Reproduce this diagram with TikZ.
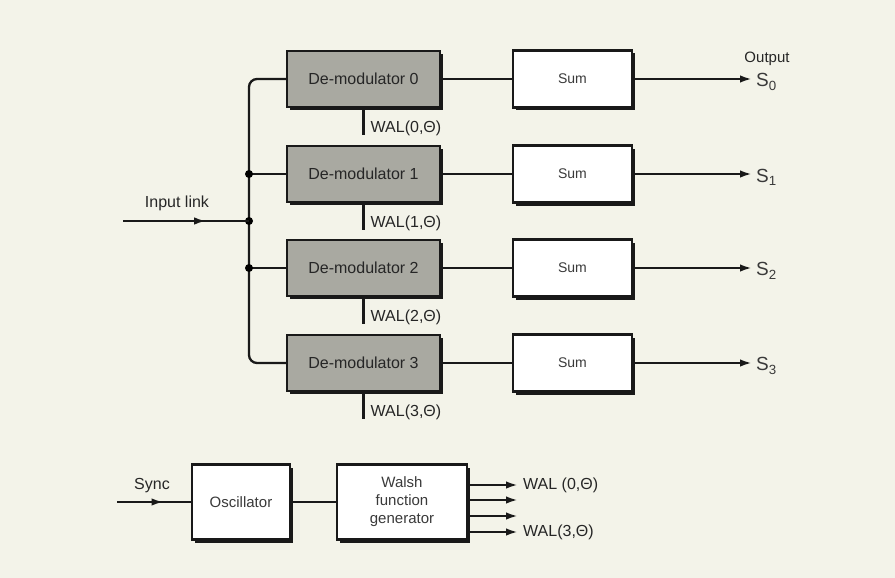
\documentclass[tikz,border=0pt]{standalone}
\usepackage{fontspec}
\setmainfont{Liberation Sans}
\usetikzlibrary{arrows.meta,shadows,calc,decorations.markings}
\definecolor{bgc}{HTML}{F3F3E9}
\definecolor{demodgray}{HTML}{A9A9A1}
\definecolor{txtgray}{HTML}{3A3A3A}
\begin{document}
\begin{tikzpicture}[x=1pt,y=-1pt,
  wire/.style={line width=2.3pt,draw=black!90},
  tip/.style={-{Latex[length=12pt,width=7.5pt]}},
  midarrow/.style={decoration={markings,mark=at position #1 with {\arrow{Latex[length=12pt,width=7.5pt]}}},postaction={decorate}},
  boxbase/.style={draw=black!90,line width=2.2pt,
     drop shadow={shadow xshift=3pt,shadow yshift=-3pt,fill=black!90,opacity=1}},
  demod/.style={boxbase,fill=demodgray,minimum width=153pt,minimum height=56pt,
     font=\fontsize{16}{18}\selectfont,text=black!85},
  sumbox/.style={boxbase,fill=white,minimum width=119pt,minimum height=57pt,
     font=\fontsize{14}{16}\selectfont,text=txtgray},
  genbox/.style={boxbase,fill=white,minimum height=75pt,align=center,
     font=\fontsize{15}{18}\selectfont,text=txtgray},
  lbl/.style={font=\fontsize{16}{18}\selectfont,text=black!85,inner sep=1pt},
  slbl/.style={font=\fontsize{19}{21}\selectfont,text=txtgray,inner sep=1pt},
  dot/.style={circle,fill=black,inner sep=0pt,minimum size=8pt}]
\fill[bgc] (0,0) rectangle (895,578);
\useasboundingbox (0,0) rectangle (895,578);

% demodulators
\node[demod] (d0) at (363.5,79) {De-modulator 0};
\node[demod] (d1) at (363.5,174) {De-modulator 1};
\node[demod] (d2) at (363.5,268) {De-modulator 2};
\node[demod] (d3) at (363.5,363) {De-modulator 3};

% sums
\node[sumbox] (s0) at (572.5,79) {Sum};
\node[sumbox] (s1) at (572.5,174) {Sum};
\node[sumbox] (s2) at (572.5,268) {Sum};
\node[sumbox] (s3) at (572.5,363) {Sum};

% trunk
\coordinate (t0) at (249,79);
\coordinate (t1) at (249,174);
\coordinate (tin) at (249,221);
\coordinate (t2) at (249,268);
\coordinate (t3) at (249,363);
\draw[wire,rounded corners=8pt] (d0.west) -- (t0) -- (t3) -- (d3.west);
\draw[wire] (t1) -- (d1.west);
\draw[wire] (t2) -- (d2.west);
\node[dot] (j1) at (t1) {};
\node[dot] (j2) at (tin) {};
\node[dot] (j3) at (t2) {};

% input link
\coordinate (inA) at (123,221);
\draw[wire,midarrow=0.66] (inA) -- (j2.center);
\node[lbl,anchor=south] (inl) at (177,212) {Input link};

% demod to sum and outputs
\foreach \i in {0,1,2,3}{
  \draw[wire] (d\i.east) -- (s\i.west);
}
\coordinate (o0) at (752,79);
\coordinate (o1) at (752,174);
\coordinate (o2) at (752,268);
\coordinate (o3) at (752,363);
\draw[wire,tip] (s0.east) -- (o0);
\draw[wire,tip] (s1.east) -- (o1);
\draw[wire,tip] (s2.east) -- (o2);
\draw[wire,tip] (s3.east) -- (o3);
\node[slbl,anchor=west] (S0) at (755,82) {S\textsubscript{0}};
\node[slbl,anchor=west] (S1) at (755,177) {S\textsubscript{1}};
\node[slbl,anchor=west] (S2) at (755,271) {S\textsubscript{2}};
\node[slbl,anchor=west] (S3) at (755,366) {S\textsubscript{3}};
\node[font=\fontsize{15}{17}\selectfont,text=black!85] (outl) at (767,59) {Output};

% WAL stubs
\foreach \i in {0,1,2,3}{
  \coordinate (w\i) at ($(d\i.south)+(0,27)$);
  \draw[wire] (d\i.south) -- (w\i);
  \node[lbl,anchor=west] (wl\i) at ($(w\i)+(6,-7)$) {WAL(\i,Θ)};
}

% bottom part
\node[genbox,minimum width=98pt] (osc) at (241,502) {Oscillator};
\node[genbox,minimum width=130pt] (wg) at (402,502) {Walsh\\function\\generator};
\coordinate (syA) at (117,502);
\draw[wire,midarrow=0.63] (syA) -- (osc.west);
\node[lbl,anchor=south] (syl) at (152,494) {Sync};
\draw[wire] (osc.east) -- (wg.west);
\foreach \k/\yy in {0/485,1/500,2/516,3/532}{
  \coordinate (ga\k) at (wg.east |- 0,\yy);
  \coordinate (gb\k) at (518,\yy);
  \draw[wire,tip] (ga\k) -- (gb\k);
}
\node[lbl,anchor=west] (g0l) at (522,485) {WAL (0,Θ)};
\node[lbl,anchor=west] (g3l) at (522,532) {WAL(3,Θ)};
\end{tikzpicture}
\end{document}
